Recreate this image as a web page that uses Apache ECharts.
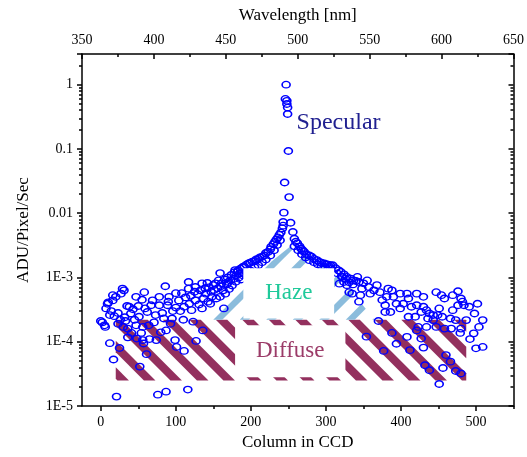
<!DOCTYPE html>
<html>
<head>
<meta charset="utf-8">
<script src="https://cdn.jsdelivr.net/npm/echarts@6/dist/echarts.min.js"></script>
<style>
html,body{margin:0;padding:0;background:#fff;}
#chart{width:527px;height:457px;}
</style>
</head>
<body>
<div id="chart"></div>
<script>
// ---- data: [column in CCD, ADU/Pixel/Sec] ----
const pointsLeft = [[0,2.1e-4],[2,2.0e-4],[5,1.8e-4],[6,1.7e-4],[7,3.3e-4],[9,3.9e-4],[10,4.1e-4],[12,2.6e-4],[12,9.5e-5],[14,3.0e-4],[16,5.3e-4],[16,4.4e-4],[17,5.3e-5],[18,2.5e-4],[20,5.0e-4],[21,1.4e-5],[23,2.8e-4],[23,1.9e-4],[25,8.0e-5],[26,2.2e-4],[27,5.6e-4],[29,6.7e-4],[30,1.7e-4],[31,6.3e-4],[32,2.4e-4],[33,2.1e-4],[35,3.6e-4],[36,1.6e-4],[36,1.17e-4],[38,3.5e-4],[40,2.75e-4],[41,1.37e-4],[43,3.2e-4],[45,2.2e-4],[47,5.0e-4],[47,1.8e-4],[48,1.12e-4],[50,3.6e-4],[51,2.45e-4],[52,4.1e-5],[54,1.37e-4],[55,4.5e-4],[56,1.7e-4],[56,1.06e-4],[57,9.4e-5],[58,5.9e-4],[59,3.3e-4],[61,6.4e-5],[62,2.9e-4],[64,1.8e-4],[65,1.1e-4],[67,3.7e-4],[69,4.4e-4],[71,2.0e-4],[73,2.6e-4],[74,1.06e-4],[76,1.5e-5],[78,5.0e-4],[78,3.7e-4],[80,1.4e-4],[82,2.8e-4],[84,2.3e-4],[86,7.3e-4],[87,1.5e-4],[87,1.67e-5],[89,3.7e-4],[90,4.2e-4],[91,5.0e-4],[93,1.9e-4],[95,2.3e-4],[96,3.0e-4],[99,1.06e-4],[100,5.7e-4],[100,3.4e-4],[101,8.3e-5]];
const pointsRising = [[104,4.4e-4],[106,3.0e-4],[108,5.7e-4],[110,2.2e-4],[111,3.5e-4],[111,7.2e-5],[113,4.9e-4],[116,1.8e-5],[117,8.5e-4],[117,6.7e-4],[118,3.9e-4],[120,5.2e-4],[121,3.1e-4],[123,2.05e-4],[125,6.0e-4],[126,7.1e-4],[126,4.4e-4],[127,1.03e-4],[129,5.5e-4],[131,3.8e-4],[133,6.3e-4],[135,8.1e-4],[135,3.3e-4],[136,1.5e-4],[137,4.7e-4],[139,6.8e-4],[140,5.6e-4],[142,8.2e-4],[143,4.2e-4],[144,7.0e-4],[146,3.9e-4],[147,6.0e-4],[148,5.0e-4],[150,7.6e-4],[151,6.4e-4],[153,8.1e-4],[154,4.7e-4],[156,6.8e-4],[157,9.0e-4],[159,1.17e-3],[159,5.0e-4],[160,7.3e-4],[161,8.1e-4],[163,6.3e-4],[164,3.3e-4],[165,9.3e-4],[166,5.6e-4],[168,7.8e-4],[169,1.0e-3],[170,8.5e-4],[171,6.6e-4],[173,9.0e-4],[174,1.1e-3],[175,7.5e-4],[177,9.5e-4],[178,1.2e-3],[179,1.3e-3],[180,8.6e-4],[181,1.08e-3],[182,1.22e-3],[184,1.0e-3],[185,1.15e-3],[187,9.3e-4]];
const pointsShoulderLeft = [[183,1.29e-3],[186,1.37e-3],[189,1.44e-3],[189,1.08e-3],[191,1.49e-3],[194,1.58e-3],[194,1.2e-3],[197,1.66e-3],[199,1.7e-3],[199,1.29e-3],[202,1.76e-3],[205,1.8e-3],[205,1.44e-3],[207,1.9e-3],[210,1.95e-3],[210,1.55e-3],[212,2.05e-3],[215,2.1e-3],[215,1.73e-3],[218,2.2e-3],[220,2.4e-3],[220,1.9e-3],[223,2.5e-3],[226,2.75e-3],[226,2.2e-3],[227,3.0e-3],[230,3.3e-3],[231,2.65e-3],[232,3.6e-3],[234,3.9e-3],[235,3.2e-3],[236,4.2e-3],[238,4.6e-3],[239,3.8e-3],[240,5.0e-3],[242,5.8e-3],[243,6.4e-3]];
const pointsSpecular = [[243,7.3e-3],[244,1.02e-2],[245,0.03],[246,0.6],[247,1.0],[248,0.56],[248,0.5],[249,0.44],[249,0.35],[250,0.093],[251,0.0178],[253,7.1e-3]];
const pointsShoulderRight = [[256,5.1e-3],[258,4.0e-3],[258,3.05e-3],[260,3.6e-3],[262,3.4e-3],[263,2.65e-3],[265,3.05e-3],[267,2.8e-3],[268,2.3e-3],[269,2.65e-3],[271,2.5e-3],[273,2.05e-3],[274,2.3e-3],[278,2.2e-3],[278,1.86e-3],[281,2.1e-3],[284,1.95e-3],[284,1.73e-3],[288,1.86e-3],[289,1.6e-3],[291,1.75e-3],[294,1.7e-3],[294,1.49e-3],[298,1.65e-3],[299,1.44e-3],[301,1.6e-3],[303,1.58e-3],[306,1.55e-3],[306,1.4e-3],[309,1.55e-3],[313,1.39e-3],[315,1.16e-3],[317,1.29e-3],[320,1.22e-3],[321,1.04e-3],[324,1.12e-3],[326,9.6e-4],[328,1.02e-3],[331,8.4e-4],[333,9.6e-4],[336,7.8e-4],[337,9.0e-4]];
const pointsFalling = [[318,8.0e-4],[322,1.02e-3],[324,8.5e-4],[328,7.6e-4],[331,5.9e-4],[335,5.6e-4],[340,8.8e-4],[342,1.02e-3],[344,8.5e-4],[344,4.2e-4],[346,5.3e-4],[348,6.7e-4],[350,8.1e-4],[354,1.2e-4],[355,9.0e-4],[357,7.1e-4],[359,5.6e-4],[364,6.3e-4],[368,7.6e-4],[370,2.1e-4],[372,5.9e-4],[375,4.45e-4],[377,7.2e-5],[379,3.7e-4],[379,2.9e-4],[381,5.0e-4],[383,6.7e-4],[386,2.9e-4],[388,6.3e-4],[388,1.37e-4],[390,5.0e-4],[394,3.9e-4],[394,9.3e-5],[399,3.3e-4],[399,5.6e-4]];
const pointsRight = [[403,3.9e-4],[408,5.6e-4],[408,1.19e-4],[410,4.7e-4],[410,2.45e-4],[412,7.4e-5],[414,3.5e-4],[419,2.45e-4],[421,5.6e-4],[421,3.7e-4],[421,1.5e-4],[423,1.7e-4],[427,2.9e-4],[427,1.12e-4],[430,5.0e-4],[430,3.5e-4],[430,8.1e-5],[432,4.3e-5],[434,3.1e-4],[434,1.7e-4],[436,2.3e-4],[438,2.75e-4],[438,3.6e-5],[443,2.6e-4],[443,2.17e-4],[447,5.9e-4],[447,1.7e-4],[449,2.6e-4],[451,3.3e-4],[451,2.2e-5],[454,5.3e-4],[455,2.45e-4],[456,3.9e-5],[458,4.7e-4],[458,1.6e-4],[460,6.2e-5],[466,4.9e-5],[466,2.3e-4],[467,1.6e-4],[469,3.1e-4],[469,5.3e-4],[473,2.17e-4],[473,3.5e-5],[476,3.7e-4],[476,6.1e-4],[479,1.37e-4],[480,4.7e-4],[480,1.6e-4],[480,3.2e-5],[482,4.2e-4],[484,3.7e-4],[487,2.17e-4],[491,3.5e-4],[492,1.1e-4],[497,1.35e-4],[498,2.75e-4],[500,7.9e-5],[502,3.9e-4],[504,1.7e-4],[509,8.3e-5],[509,2.17e-4]];

// hatched regions (data coordinates)
const diffuseCols = [20, 487];
const diffuseLevels = [2.5e-5, 2.2e-4];
const hazeCols = [130, 252, 311, 365];
const hazeLevels = [2.2e-4, 3.0e-3, 1.3e-3, 2.2e-4];
// label boxes (data coordinates)
const hazeBoxCols = [190, 311];
const hazeBoxLevels = [2.3e-4, 1.39e-3];
const diffuseBoxCols = [179, 326];
const diffuseBoxLevels = [2.8e-5, 1.8e-4];
const specularLabelAt = [261, 0.26];

// ticks
const xTickLabels = [0, 100, 200, 300, 400, 500];
const xMinorTicks = [50, 150, 250, 350, 450, 550];
const yTickValues = [1e-5, 1e-4, 1e-3, 0.01, 0.1, 1];
const yTickLabels = ['1E-5', '1E-4', '1E-3', '0.01', '0.1', '1'];
const yMinorMantissas = [2, 3, 4, 5, 6, 7, 8, 9];
const wlMin = 350, wlMax = 650;

const yMax = 3;
const yMinorLog = [];
for (let e = -5; e <= 0; e++) {
  for (const m of yMinorMantissas) {
    const v = m * Math.pow(10, e);
    if (v < yMax) yMinorLog.push(Math.log10(v));
  }
}

const FONT = '"Liberation Serif", "Times New Roman", serif';

// hatch styling
const DIFFUSE_HATCH = { color: '#93305e', dir: 1, period: 26.5, width: 11.5, phase: -263 };
const HAZE_HATCH = { color: '#8bbcdc', dir: -1, period: 26.5, width: 9, phase: 533 };

function clipHalf(poly, f, lim, keepGreater) {
  const out = [];
  const n = poly.length;
  for (let i = 0; i < n; i++) {
    const a = poly[i], b = poly[(i + 1) % n];
    const fa = f(a) - lim, fb = f(b) - lim;
    const ina = keepGreater ? fa >= 0 : fa <= 0;
    const inb = keepGreater ? fb >= 0 : fb <= 0;
    if (ina) out.push(a);
    if (ina !== inb) {
      const t = fa / (fa - fb);
      out.push([a[0] + (b[0] - a[0]) * t, a[1] + (b[1] - a[1]) * t]);
    }
  }
  return out;
}
function hatchChildren(poly, h) {
  const f = h.dir > 0 ? p => p[0] - p[1] : p => p[0] + p[1];
  const vals = poly.map(f);
  const lo = Math.min.apply(null, vals), hi = Math.max.apply(null, vals);
  const children = [];
  let c = h.phase + Math.floor((lo - h.width - h.phase) / h.period) * h.period;
  for (; c < hi; c += h.period) {
    let q = clipHalf(poly, f, c, true);
    if (q.length < 3) continue;
    q = clipHalf(q, f, c + h.width, false);
    if (q.length >= 3) children.push({ type: 'polygon', shape: { points: q }, style: { fill: h.color } });
  }
  return children;
}

const allPoints = [].concat(pointsLeft, pointsRising, pointsShoulderLeft, pointsSpecular, pointsShoulderRight, pointsFalling, pointsRight);

const chart = echarts.init(document.getElementById('chart'), null, { renderer: 'canvas' });

const axisLineStyle = { color: '#000', width: 1.5 };
const labelStyle = { fontFamily: FONT, fontSize: 14, color: '#000' };
const nameStyle = { fontFamily: FONT, fontSize: 17, color: '#000' };

function boxItem(cols, levels, text, color, api) {
  const p0 = api.coord([cols[0], levels[1]]);
  const p1 = api.coord([cols[1], levels[0]]);
  return {
    type: 'group',
    children: [
      { type: 'rect', shape: { x: p0[0], y: p0[1], width: p1[0] - p0[0], height: p1[1] - p0[1] }, style: { fill: '#fff' } },
      { type: 'text', x: (p0[0] + p1[0]) / 2, y: (p0[1] + p1[1]) / 2,
        style: { text: text, font: '23px ' + FONT, fill: color, align: 'center', verticalAlign: 'middle' } }
    ]
  };
}

const option = {
  animation: false,
  backgroundColor: '#fff',
  grid: { left: 82, right: 9, top: 54, bottom: 51, containLabel: false },
  xAxis: [
    {
      type: 'value', position: 'bottom', min: -25, max: 550, interval: 25,
      axisLine: { show: true, lineStyle: axisLineStyle, onZero: false },
      axisTick: { show: true, customValues: xTickLabels, length: 5, lineStyle: axisLineStyle },
      axisLabel: { show: true, customValues: xTickLabels, margin: 9, ...labelStyle, formatter: v => String(v) },
      splitLine: { show: false },
      name: 'Column in CCD', nameLocation: 'middle', nameGap: 25, nameTextStyle: nameStyle
    },
    {
      type: 'value', position: 'bottom', min: -25, max: 550, interval: 25,
      axisLine: { show: false, onZero: false },
      axisTick: { show: true, customValues: xMinorTicks, length: 3, lineStyle: axisLineStyle },
      axisLabel: { show: false },
      splitLine: { show: false }
    },
    {
      type: 'value', position: 'top', min: wlMin, max: wlMax, interval: 50,
      axisLine: { show: true, lineStyle: axisLineStyle, onZero: false },
      axisTick: { show: true, inside: true, length: 5, lineStyle: axisLineStyle },
      minorTick: { show: true, splitNumber: 2, length: 3, lineStyle: axisLineStyle },
      axisLabel: { show: true, margin: 7, ...labelStyle },
      splitLine: { show: false },
      name: 'Wavelength [nm]', nameLocation: 'middle', nameGap: 30, nameTextStyle: nameStyle
    }
  ],
  yAxis: [
    {
      type: 'log', logBase: 10, position: 'left', min: 1e-5, max: yMax,
      axisLine: { show: true, lineStyle: axisLineStyle, onZero: false },
      axisTick: { show: true, length: 5, lineStyle: axisLineStyle },
      axisLabel: {
        show: true, margin: 9, ...labelStyle,
        formatter: v => {
          for (let i = 0; i < yTickValues.length; i++) {
            if (Math.abs(Math.log10(v) - Math.log10(yTickValues[i])) < 1e-6) return yTickLabels[i];
          }
          return '';
        }
      },
      splitLine: { show: false },
      name: 'ADU/Pixel/Sec', nameLocation: 'middle', nameGap: 50, nameRotate: 90, nameTextStyle: nameStyle
    },
    {
      type: 'value', position: 'left', min: -5, max: Math.log10(yMax),
      axisLine: { show: false, onZero: false },
      axisTick: { show: true, customValues: yMinorLog, length: 3, lineStyle: axisLineStyle },
      axisLabel: { show: false }, splitLine: { show: false }
    },
    {
      type: 'log', logBase: 10, position: 'right', min: 1e-5, max: yMax,
      axisLine: { show: true, lineStyle: axisLineStyle, onZero: false },
      axisTick: { show: true, inside: true, length: 5, lineStyle: axisLineStyle },
      axisLabel: { show: false }, splitLine: { show: false }
    },
    {
      type: 'value', position: 'right', min: -5, max: Math.log10(yMax),
      axisLine: { show: false, onZero: false },
      axisTick: { show: true, inside: true, customValues: yMinorLog, length: 3, lineStyle: axisLineStyle },
      axisLabel: { show: false }, splitLine: { show: false }
    }
  ],
  series: [
    {
      type: 'custom', name: 'diffuse', xAxisIndex: 0, yAxisIndex: 0, z: 1, silent: true,
      data: [[diffuseCols[0], diffuseLevels[0]]],
      renderItem: (params, api) => {
        const pts = [
          api.coord([diffuseCols[0], diffuseLevels[0]]),
          api.coord([diffuseCols[1], diffuseLevels[0]]),
          api.coord([diffuseCols[1], diffuseLevels[1]]),
          api.coord([diffuseCols[0], diffuseLevels[1]])
        ];
        return { type: 'group', children: hatchChildren(pts, DIFFUSE_HATCH) };
      }
    },
    {
      type: 'custom', name: 'haze', xAxisIndex: 0, yAxisIndex: 0, z: 2, silent: true,
      data: [[hazeCols[0], hazeLevels[0]]],
      renderItem: (params, api) => {
        const pts = hazeCols.map((c, i) => api.coord([c, hazeLevels[i]]));
        return { type: 'group', children: hatchChildren(pts, HAZE_HATCH) };
      }
    },
    {
      type: 'scatter', name: 'data', xAxisIndex: 0, yAxisIndex: 0, z: 3, silent: true,
      data: allPoints,
      symbol: 'circle', symbolSize: [8, 6.5],
      itemStyle: { color: 'rgba(0,0,0,0)', borderColor: '#0000ff', borderWidth: 1.5, opacity: 1 }
    },
    {
      type: 'custom', name: 'labels', xAxisIndex: 0, yAxisIndex: 0, z: 4, silent: true,
      data: [[specularLabelAt[0], specularLabelAt[1]]],
      renderItem: (params, api) => {
        const sp = api.coord(specularLabelAt);
        return {
          type: 'group',
          children: [
            boxItem(hazeBoxCols, hazeBoxLevels, 'Haze', '#1fc99a', api),
            boxItem(diffuseBoxCols, diffuseBoxLevels, 'Diffuse', '#9b3b68', api),
            { type: 'text', x: sp[0], y: sp[1],
              style: { text: 'Specular', font: '24px ' + FONT, fill: '#202090', align: 'left', verticalAlign: 'middle' } }
          ]
        };
      }
    }
  ]
};
chart.setOption(option);
</script>
</body>
</html>
